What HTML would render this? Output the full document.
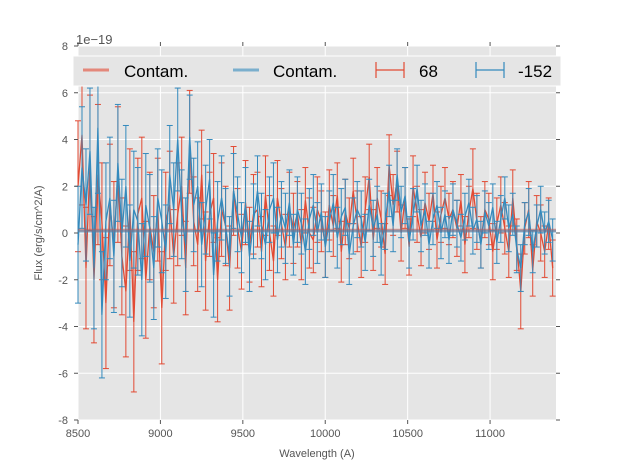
<!DOCTYPE html>
<html><head><meta charset="utf-8"><style>
body{margin:0;background:#fff;font-family:"Liberation Sans",sans-serif}
svg text{font-family:"Liberation Sans",sans-serif}
</style></head><body>
<svg width="617" height="467" viewBox="0 0 617 467">
<rect width="617" height="467" fill="#fff"/>
<rect x="78" y="46" width="478" height="374" fill="#e5e5e5"/>
<g id="grid"></g>
<g id="series"></g>
<g id="axes"></g>
<text x="76" y="44" font-size="13" fill="#555">1e−19</text>
<text x="317" y="457" font-size="11" fill="#555" text-anchor="middle">Wavelength (A)</text>
<text transform="translate(42,233) rotate(-90)" font-size="11" fill="#555" text-anchor="middle">Flux (erg/s/cm^2/A)</text>
<g>
<rect x="73" y="56" width="488" height="30" fill="#e5e5e5" stroke="#fff" stroke-width="1"/>
<line x1="83" y1="70" x2="109" y2="70" stroke="#e24a33" stroke-opacity="0.6" stroke-width="3"/>
<text x="124" y="77" font-size="17" fill="#000">Contam.</text>
<line x1="233" y1="70" x2="259" y2="70" stroke="#348abd" stroke-opacity="0.6" stroke-width="3"/>
<text x="273" y="77" font-size="17" fill="#000">Contam.</text>
<g stroke="#e24a33" stroke-width="1.2"><line x1="376" y1="70" x2="404" y2="70"/><line x1="376" y1="62" x2="376" y2="78"/><line x1="404" y1="62" x2="404" y2="78"/></g>
<text x="419" y="77" font-size="17" fill="#000">68</text>
<g stroke="#348abd" stroke-width="1.2"><line x1="476" y1="70" x2="504" y2="70"/><line x1="476" y1="62" x2="476" y2="78"/><line x1="504" y1="62" x2="504" y2="78"/></g>
<text x="518" y="77" font-size="17" fill="#000">-152</text>
</g>
</svg>
<script>
const xStart=8500, xStep=24.2;
const xTicks=[8500,9000,9500,10000,10500,11000];
const yTicks=[-8,-6,-4,-2,0,2,4,6,8];
const contamRed=0.12, contamBlue=0.08;
const fluxRed=[2.0,4.2,-1.5,3.0,-2.0,2.5,0.5,-3.0,1.2,-0.5,2.5,-1.0,-2.5,1.0,-3.8,0.8,1.5,-2.0,0.3,-0.8,
1.0,-3.2,0.5,1.2,-1.0,0.8,2.0,-1.5,3.9,0.5,-0.5,2.5,-1.2,0.8,1.5,-2.0,1.0,0.3,-1.5,1.8,
0.2,-0.8,1.3,-0.5,0.8,1.0,-0.8,1.6,0.0,-1.2,1.5,0.4,-0.6,1.0,0.2,0.8,-0.5,1.4,0.0,-0.3,
1.0,0.5,-0.5,1.2,0.3,1.6,-0.8,0.9,0.2,1.8,0.5,-0.6,1.0,2.4,-0.3,1.5,0.6,-0.9,2.9,1.2,
2.2,0.0,1.5,-0.6,2.0,0.8,-0.2,1.3,0.5,1.7,-0.3,0.8,1.5,0.6,1.0,0.2,1.4,-0.5,0.9,1.9,
0.5,-0.4,1.0,0.6,-0.8,0.4,1.2,0.2,-0.8,1.5,-0.5,-2.5,0.2,1.0,-1.6,0.5,0.0,-0.8,0.4,-1.5];
const fluxBlue=[-0.5,2.8,1.2,3.5,-1.5,4.5,-3.5,0.5,1.5,-1.0,3.0,0.0,2.0,-1.2,1.0,0.5,-2.0,1.2,0.2,-1.5,
1.5,0.5,-0.8,2.5,1.0,4.0,0.8,-0.5,4.1,1.2,2.0,-0.5,1.0,2.3,-1.8,0.5,1.5,0.3,-1.0,1.8,
0.8,-0.2,1.2,-1.0,0.5,1.8,0.3,-0.5,1.0,1.5,-0.3,0.8,0.2,1.3,-0.5,1.0,0.4,-0.8,0.6,1.2,
0.0,0.9,-0.6,0.5,1.3,-0.2,0.7,1.1,-0.9,0.3,1.0,0.6,-0.4,1.2,0.2,0.8,-0.7,0.5,1.8,0.3,
2.5,0.9,1.6,-0.4,0.8,1.9,0.3,1.0,-0.5,0.6,1.2,0.0,0.8,-0.3,1.0,0.4,-0.2,0.7,1.3,0.1,
0.6,-0.5,0.9,0.3,1.1,-0.4,0.6,1.5,0.2,0.8,-0.7,-1.5,0.4,0.9,-0.8,0.3,1.0,0.0,0.5,-0.3];
const errRed=[2.8,3.0,2.6,2.9,2.7,3.0,2.5,2.8,2.6,2.7,2.9,2.5,2.8,2.6,3.0,2.4,2.6,2.5,2.3,2.4,
2.2,2.4,2.1,2.3,2.0,2.2,2.1,2.0,2.2,1.9,2.0,1.9,2.1,1.8,1.9,1.8,2.0,1.7,1.8,1.9,
1.7,1.6,1.8,1.6,1.7,1.6,1.5,1.7,1.6,1.5,1.6,1.5,1.4,1.6,1.5,1.4,1.5,1.4,1.5,1.4,
1.4,1.3,1.4,1.5,1.3,1.4,1.3,1.4,1.3,1.4,1.3,1.3,1.4,1.4,1.3,1.3,1.2,1.3,1.3,1.3,
1.3,1.2,1.3,1.2,1.3,1.2,1.2,1.3,1.2,1.2,1.2,1.2,1.3,1.1,1.2,1.2,1.1,1.2,1.1,1.7,
1.2,1.1,1.2,1.1,1.2,1.1,1.2,1.1,1.1,1.2,1.1,1.6,1.1,1.2,1.1,1.1,1.2,1.1,1.1,1.2];
const errBlue=[2.5,2.6,2.4,2.7,2.6,2.8,2.7,2.5,2.6,2.4,2.5,2.3,2.6,2.4,2.5,2.3,2.4,2.2,2.3,2.2,
2.1,2.2,2.0,2.1,2.0,2.2,1.9,2.0,1.8,2.0,1.9,1.8,1.9,1.7,1.8,1.7,1.8,1.6,1.7,1.6,
1.6,1.5,1.6,1.5,1.6,1.5,1.4,1.5,1.4,1.5,1.4,1.4,1.5,1.4,1.3,1.4,1.3,1.4,1.3,1.3,
1.3,1.2,1.3,1.3,1.2,1.3,1.2,1.2,1.3,1.2,1.2,1.2,1.2,1.1,1.2,1.2,1.1,1.2,1.1,1.1,
1.1,1.1,1.2,1.1,1.1,1.0,1.1,1.1,1.0,1.1,1.0,1.1,1.0,1.0,1.1,1.0,1.0,1.0,1.0,1.0,
1.0,1.0,0.9,1.0,1.0,0.9,1.0,0.9,1.0,0.9,1.0,1.0,0.9,1.0,0.9,0.9,1.0,0.9,0.9,0.9];

const X0=78,X1=556,Y0=46,Y1=420,XMIN=8500,XMAX=11400,YMIN=-8,YMAX=8;
const sx=v=>X0+(v-XMIN)/(XMAX-XMIN)*(X1-X0);
const sy=v=>Y1-(v-YMIN)/(YMAX-YMIN)*(Y1-Y0);
const NS="http://www.w3.org/2000/svg";
function mk(tag,attrs,parent){const e=document.createElementNS(NS,tag);for(const k in attrs)e.setAttribute(k,attrs[k]);parent.appendChild(e);return e;}
const grid=document.getElementById('grid'),axes=document.getElementById('axes'),ser=document.getElementById('series');
xTicks.forEach(t=>{const x=sx(t);
 const g=mk('line',{x1:x,x2:x,y1:Y0,y2:Y1,stroke:'#fff','stroke-width':1},grid);
 
 
 mk('line',{x1:x,x2:x,y1:Y1,y2:Y1+4,stroke:'#555'},axes);
 mk('line',{x1:x,x2:x,y1:Y0,y2:Y0-4,stroke:'#555'},axes);
 const tx=mk('text',{x:x,y:Y1+17,'font-size':11,fill:'#555','text-anchor':'middle'},axes);
 tx.textContent=t;
 
 
});
yTicks.forEach(t=>{const y=sy(t);
 const g=mk('line',{x1:X0,x2:X1,y1:y,y2:y,stroke:'#fff','stroke-width':1},grid);
 
 
 mk('line',{x1:X0,x2:X0-4,y1:y,y2:y,stroke:'#555'},axes);
 mk('line',{x1:X1,x2:X1+4,y1:y,y2:y,stroke:'#555'},axes);
 const tx=mk('text',{x:X0-10,y:y+4,'font-size':11,fill:'#555','text-anchor':'end'},axes);
 tx.textContent=t;
 
 
});
function drawSeries(vals,errs,color,name){
 const g=mk('g',{},ser);
 
 
 let d='';
 vals.forEach((v,i)=>{const x=sx(xStart+i*xStep);const e=errs[i];
  const top=Math.max(sy(v+e),Y0),bot=Math.min(sy(v-e),Y1);
  mk('line',{x1:x,x2:x,y1:top,y2:bot,stroke:color,'stroke-width':1},g);
  if(sy(v+e)>=Y0) mk('line',{x1:x-3,x2:x+3,y1:top,y2:top,stroke:color,'stroke-width':1},g);
  if(sy(v-e)<=Y1) mk('line',{x1:x-3,x2:x+3,y1:bot,y2:bot,stroke:color,'stroke-width':1},g);
  d+=(i?'L':'M')+x.toFixed(1)+','+sy(v).toFixed(1);
 });
 mk('path',{d:d,fill:'none',stroke:color,'stroke-width':1.3},g);
}
drawSeries(fluxRed,errRed,'#e24a33','series-68');
drawSeries(fluxBlue,errBlue,'#348abd','series-152');
const c1=mk('line',{x1:X0,x2:X1,y1:sy(contamRed),y2:sy(contamRed),stroke:'#e24a33','stroke-opacity':0.5,'stroke-width':3},ser);


const c2=mk('line',{x1:X0,x2:X1,y1:sy(contamBlue),y2:sy(contamBlue),stroke:'#348abd','stroke-opacity':0.5,'stroke-width':3},ser);


</script>
</body></html>
